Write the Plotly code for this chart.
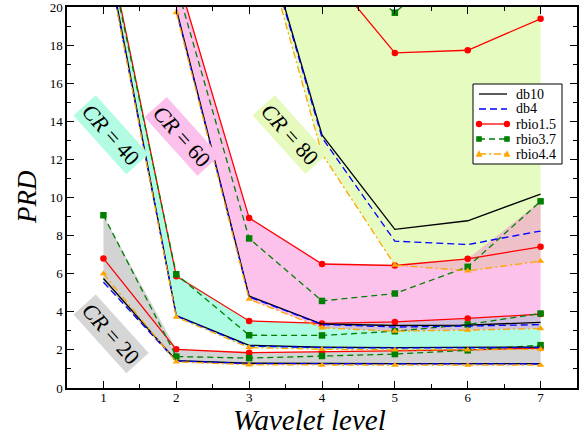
import plotly.graph_objects as go

levels = [1, 2, 3, 4, 5, 6, 7]
wavelets = ["db10", "db4", "rbio1.5", "rbio3.7", "rbio4.4"]

# PRD values per compression ratio (None = not plotted)
cr20_db10 = [5.75, 1.44, 1.30, 1.28, 1.28, 1.28, 1.28]
cr20_db4 = [5.55, 1.42, 1.28, 1.26, 1.27, 1.27, 1.26]
cr20_rbio15 = [6.80, 2.03, 1.85, 1.90, 1.93, 2.00, 2.10]
cr20_rbio37 = [9.07, 1.65, 1.57, 1.68, 1.78, 1.98, 2.25]
cr20_rbio44 = [6.00, 1.37, 1.22, 1.20, 1.20, 1.20, 1.20]

cr40_db10 = [23.8, 3.80, 2.24, 2.14, 2.12, 2.12, 2.15]
cr40_db4 = [23.6, 3.78, 2.20, 2.12, 2.10, 2.12, 2.12]
cr40_rbio15 = [24.4, 5.87, 3.52, 3.39, 3.47, 3.65, 3.88]
cr40_rbio37 = [24.1, 5.97, 2.77, 2.76, 2.98, 3.33, 3.91]
cr40_rbio44 = [23.5, 3.72, 2.12, 2.03, 2.00, 2.00, 2.03]

cr60_db10 = [None, 19.9, 4.82, 3.36, 3.28, 3.30, 3.45]
cr60_db4 = [None, 19.8, 4.78, 3.33, 3.20, 3.25, 3.33]
cr60_rbio15 = [None, 21.8, 8.93, 6.51, 6.43, 6.78, 7.41]
cr60_rbio37 = [None, 21.2, 7.85, 4.57, 4.96, 6.36, 9.80]
cr60_rbio44 = [None, 19.7, 4.66, 3.16, 2.98, 3.04, 3.12]

cr80_db10 = [None, None, 26.4, 13.29, 8.33, 8.78, 10.18]
cr80_db4 = [None, None, 26.3, 13.15, 7.71, 7.53, 8.24]
cr80_rbio15 = [None, None, 30.0, 22.2, 17.59, 17.73, 19.38]
cr80_rbio37 = [None, None, 31.0, 22.7, 19.7, 23.0, 24.0]
cr80_rbio44 = [None, None, 26.0, 12.29, 6.45, 6.15, 6.66]

cr_labels = ["<i>CR</i> = 20", "<i>CR</i> = 40", "<i>CR</i> = 60", "<i>CR</i> = 80"]
label_x = [1.1, 1.1, 2.08, 3.56]
label_y = [2.85, 13.3, 13.2, 13.3]

groups = [
    [cr20_db10, cr20_db4, cr20_rbio15, cr20_rbio37, cr20_rbio44],
    [cr40_db10, cr40_db4, cr40_rbio15, cr40_rbio37, cr40_rbio44],
    [cr60_db10, cr60_db4, cr60_rbio15, cr60_rbio37, cr60_rbio44],
    [cr80_db10, cr80_db4, cr80_rbio15, cr80_rbio37, cr80_rbio44],
]

fill_colors = ["rgba(150,150,150,0.42)", "rgba(110,250,205,0.55)",
               "rgba(248,120,210,0.45)", "rgba(190,245,90,0.38)"]
fill_order = [0, 1, 3, 2]
label_bg = ["rgb(214,214,214)", "rgb(178,252,228)", "rgb(251,192,235)", "rgb(230,250,190)"]

styles = {
    "db10": dict(color="black", dash="solid", symbol=None),
    "db4": dict(color="blue", dash="7px,4px", symbol=None),
    "rbio1.5": dict(color="red", dash="solid", symbol="circle"),
    "rbio3.7": dict(color="green", dash="6px,4px", symbol="square"),
    "rbio4.4": dict(color="orange", dash="7px,3px,2px,3px", symbol="triangle-up"),
}

# figure geometry (pixels)
W, H = 584, 436
ML, MR, MT, MB = 67, 7, 7, 48
PW, PH = W - ML - MR, H - MT - MB


def px2x(px):
    return (px - ML) / PW


def py2y(py):
    return (H - MB - py) / PH


fig = go.Figure()

# shaded bands (min..max across wavelets)
for gi in fill_order:
    grp = groups[gi]
    xs, lo, hi = [], [], []
    for i, lv in enumerate(levels):
        vals = [s[i] for s in grp if s[i] is not None]
        if vals:
            xs.append(lv)
            lo.append(min(vals))
            hi.append(max(vals))
    fig.add_trace(go.Scatter(
        x=xs + xs[::-1], y=hi + lo[::-1], fill="toself",
        fillcolor=fill_colors[gi], line=dict(width=0), mode="lines",
        showlegend=False, hoverinfo="skip"))

for gi, grp in enumerate(groups):
    for wi, name in enumerate(wavelets):
        st = styles[name]
        mode = "lines+markers" if st["symbol"] else "lines"
        fig.add_trace(go.Scatter(
            x=levels, y=grp[wi], mode=mode, name=name,
            legendgroup=name, showlegend=False,
            line=dict(color=st["color"], dash=st["dash"], width=1.3),
            marker=dict(symbol=st["symbol"] or "circle", size=6.5, color=st["color"]),
            connectgaps=False))

for i in range(4):
    fig.add_annotation(x=label_x[i], y=label_y[i], text=cr_labels[i], showarrow=False,
                       textangle=48, bgcolor=label_bg[i], borderpad=2,
                       font=dict(family="Liberation Serif", size=22, color="black"))

# custom legend (box, sample lines, markers, texts) in paper coordinates
shapes = []
leg_box = (473, 84, 562, 164)
shapes.append(dict(type="rect", xref="paper", yref="paper",
                   x0=px2x(leg_box[0]), x1=px2x(leg_box[2]),
                   y0=py2y(leg_box[3]), y1=py2y(leg_box[1]),
                   fillcolor="white", line=dict(color="black", width=1), layer="above"))
leg_rows = [94.0, 109.0, 124.0, 139.0, 154.0]
lx0, lx1 = 479, 507
for wi, name in enumerate(wavelets):
    st = styles[name]
    yy = py2y(leg_rows[wi])
    shapes.append(dict(type="line", xref="paper", yref="paper",
                       x0=px2x(lx0), x1=px2x(lx1), y0=yy, y1=yy, layer="above",
                       line=dict(color=st["color"], dash=st["dash"], width=1.3)))
    for mx in (lx0, lx1):
        cy = leg_rows[wi]
        if st["symbol"] == "circle":
            r = 3.2
            shapes.append(dict(type="circle", xref="paper", yref="paper", layer="above",
                               x0=px2x(mx - r), x1=px2x(mx + r), y0=py2y(cy + r), y1=py2y(cy - r),
                               fillcolor=st["color"], line=dict(width=0)))
        elif st["symbol"] == "square":
            r = 2.8
            shapes.append(dict(type="rect", xref="paper", yref="paper", layer="above",
                               x0=px2x(mx - r), x1=px2x(mx + r), y0=py2y(cy + r), y1=py2y(cy - r),
                               fillcolor=st["color"], line=dict(width=0)))
        elif st["symbol"] == "triangle-up":
            r = 3.4
            path = "M {} {} L {} {} L {} {} Z".format(
                px2x(mx - r), py2y(cy + r * 0.8), px2x(mx + r), py2y(cy + r * 0.8),
                px2x(mx), py2y(cy - r * 1.1))
            shapes.append(dict(type="path", xref="paper", yref="paper", layer="above",
                               path=path, fillcolor=st["color"], line=dict(width=0)))
    fig.add_annotation(xref="paper", yref="paper", x=px2x(515), y=py2y(leg_rows[wi]),
                       xanchor="left", yanchor="middle", text=name, showarrow=False,
                       borderpad=0,
                       font=dict(family="Liberation Serif", size=14, color="black"))

# axis titles as annotations (positioned like the reference)
fig.add_annotation(xref="paper", yref="paper", x=px2x(309), y=py2y(420),
                   xanchor="center", yanchor="middle", text="<i>Wavelet level</i>",
                   showarrow=False, font=dict(family="Liberation Serif", size=29, color="black"))
fig.add_annotation(xref="paper", yref="paper", x=px2x(27), y=py2y(197),
                   xanchor="center", yanchor="middle", text="<i>PRD</i>", textangle=-90,
                   showarrow=False, font=dict(family="Liberation Serif", size=27, color="black"))

axis_common = dict(showline=True, linecolor="black", linewidth=1.5, mirror="ticks",
                   ticks="inside", ticklen=7, tickwidth=1, tickcolor="black",
                   showgrid=False, zeroline=False, automargin=False,
                   ticklabeloverflow="allow",
                   tickfont=dict(family="Liberation Serif", size=13, color="black"))

fig.update_xaxes(range=[0.5, 7.5], tick0=1, dtick=1, ticklabelstandoff=-3,
                 minor=dict(tick0=0.5, dtick=0.5, ticks="inside", ticklen=4, tickcolor="black"),
                 **axis_common)
fig.update_yaxes(range=[0, 20], tick0=0, dtick=2,
                 minor=dict(tick0=0, dtick=1, ticks="inside", ticklen=4, tickcolor="black"),
                 **axis_common)

fig.update_layout(
    width=W, height=H,
    margin=dict(l=ML, r=MR, t=MT, b=MB, autoexpand=False),
    plot_bgcolor="white", paper_bgcolor="white",
    font=dict(family="Liberation Serif", color="black"),
    showlegend=False,
    shapes=shapes,
)

fig.write_html("out.html", config={"displayModeBar": False},
               post_script="document.body.style.margin='0px';document.body.style.overflow='hidden';")
